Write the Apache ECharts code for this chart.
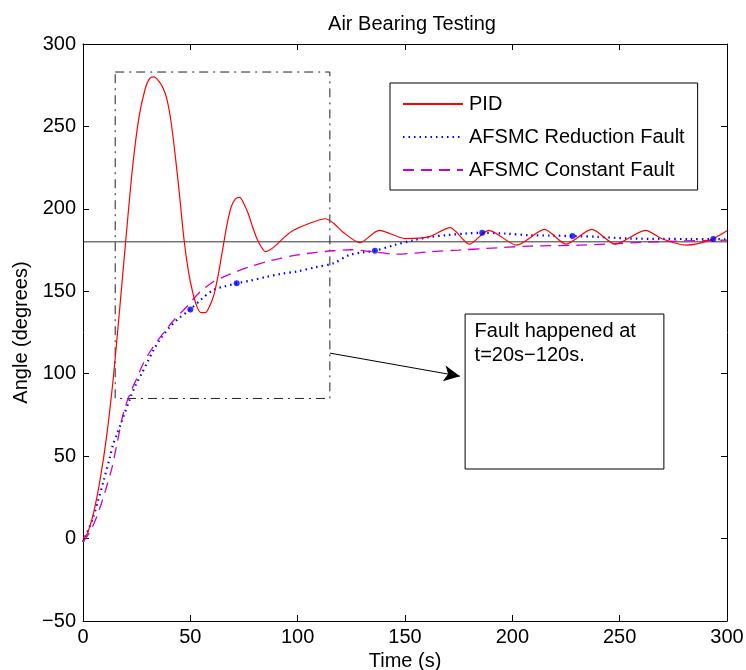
<!DOCTYPE html>
<html>
<head>
<meta charset="utf-8">
<script src="https://cdn.jsdelivr.net/npm/echarts@6/dist/echarts.min.js"></script>
<style>
  html, body { margin: 0; padding: 0; background: #fff; }
  #chart { width: 746px; height: 670px; }
</style>
</head>
<body>
<div id="chart"></div>
<script>
// Time samples (s) and angle responses (degrees)
const pidT = [0, 2, 5, 8, 11, 14, 17, 20, 23, 26, 29, 31, 33, 35, 37, 39, 41, 43, 45, 47, 49, 51, 53, 55, 57, 59, 61, 63, 65, 67, 69, 71, 73, 75, 77, 79, 81, 83, 85, 87, 90, 94, 98, 105, 113, 117, 121, 129, 138, 150, 161, 171, 180, 189, 202, 215, 225, 237, 248, 262, 270, 281, 292, 300];
const pidV = [0, 3, 16, 36, 62, 96, 138, 182, 224, 255, 273, 279, 280, 278, 274, 267, 253, 232, 208, 182, 163, 150, 141, 137, 137, 141, 148, 160, 175, 190, 201, 206, 207, 203, 197, 189, 182, 177, 174, 175, 178, 183, 187, 191, 194, 191, 186, 179.5, 187, 182, 183, 188.6, 178.6, 187, 178, 187.5, 178.6, 187.5, 178.6, 187, 181.7, 178, 181, 186.7];

const redT = [0, 1, 3, 5, 7, 9.5, 12.6, 14, 16, 18, 21.9, 24.5, 27.3, 30, 32.7, 36, 40.5, 45, 50, 55, 60.7, 66, 71.6, 78, 85.5, 92, 99.5, 108, 116.6, 124, 130, 136, 145, 154, 162, 169, 178, 186, 197, 208, 218, 228, 240, 255, 270, 283, 293.6, 300];
const redV = [-2, 1, 7, 14, 23, 34.5, 49.7, 57, 64, 71, 85, 93, 100, 107, 114, 121, 128.5, 134, 139, 145, 150.8, 153, 154.8, 156.5, 158.8, 160.5, 162, 164.5, 167, 172, 173.5, 174.6, 178, 181, 183, 184, 185, 185.5, 185, 184, 183.8, 183.5, 183, 182, 181.8, 181.7, 181.7, 181.5];
// sample indices of the reduction-fault run that carry a dot marker
const redMarkIdx = [18, 22, 31, 37, 41, 46];

const conT = [0, 1.7, 4, 6.3, 8.5, 11, 13.5, 15.6, 18.8, 21.9, 25, 28, 32, 35.9, 42, 48.3, 54, 60.7, 66, 71.6, 78, 85.5, 92, 99.5, 108, 116.6, 125, 135, 146, 155, 161.6, 175, 188, 208, 231.5, 257.8, 278, 300];
const conV = [-2, 1, 6, 13, 21, 31.5, 43, 56, 76, 88, 97, 106, 115, 122, 132, 140.6, 149, 155.8, 159, 162, 165, 168, 170, 172, 173.5, 174.6, 175.2, 174, 172.5, 173.2, 174, 175, 176, 177.4, 178, 179.5, 180.5, 181];

// reference angle
const setpointT = [0, 300];
const setpointV = [180, 180];

// fault window outline
const boxT = [15, 115, 115, 15, 15];
const boxV = [283, 283, 85, 85, 283];

// note box corners and arrow ends
const noteBox = [[178, 136.2], [270.6, 42.2]];
const arrowEnds = [[115, 112.5], [175.6, 98.5]];
const noteText = 'Fault happened at\nt=20s\u2212120s.';

const xTicks = { min: 0, max: 300, interval: 50 };
const yTicks = { min: -50, max: 300, interval: 50 };

const seriesNames = ['PID', 'AFSMC Reduction Fault', 'AFSMC Constant Fault'];

const zip = (a, b) => a.map((t, i) => [t, b[i]]);
const FONT = "'Liberation Sans', Arial, Helvetica, sans-serif";
const FS = 20;

const axisCommon = {
  axisLine: { show: true, onZero: false, lineStyle: { color: '#000', width: 1 } },
  axisTick: { show: true, inside: true, length: 6, lineStyle: { color: '#000' } },
  splitLine: { show: false }
};

const chart = echarts.init(document.getElementById('chart'), null, { renderer: 'canvas' });
chart.setOption({
  backgroundColor: '#fff',
  animation: false,
  textStyle: { fontFamily: FONT },
  title: {
    text: 'Air Bearing Testing',
    left: 407, top: 9, textAlign: 'center',
    textStyle: { fontFamily: FONT, fontSize: FS, fontWeight: 'normal', color: '#000' }
  },
  grid: { left: 83, right: 19, top: 44, bottom: 49, containLabel: false, outerBoundsMode: 'none' },
  legend: {
    data: seriesNames,
    orient: 'vertical',
    left: 390, top: 83,
    padding: [11, 13, 10, 12],
    itemGap: 13,
    itemWidth: 60, itemHeight: 14,
    backgroundColor: '#fff',
    borderColor: '#000', borderWidth: 1, borderRadius: 0,
    itemStyle: { opacity: 0 },
    textStyle: { fontFamily: FONT, fontSize: FS, color: '#000', padding: [0, 0, 0, 1] }
  },
  xAxis: [
    Object.assign({
      type: 'value', position: 'bottom',
      min: xTicks.min, max: xTicks.max, interval: xTicks.interval,
      name: 'Time (s)', nameLocation: 'middle', nameGap: 26,
      nameTextStyle: { fontFamily: FONT, fontSize: FS, color: '#000' },
      axisLabel: { color: '#000', fontSize: FS, fontFamily: FONT, margin: 6 }
    }, axisCommon),
    Object.assign({
      type: 'value', position: 'top',
      min: xTicks.min, max: xTicks.max, interval: xTicks.interval,
      axisLabel: { show: false }
    }, axisCommon)
  ],
  yAxis: [
    Object.assign({
      type: 'value', position: 'left',
      min: yTicks.min, max: yTicks.max, interval: yTicks.interval,
      name: 'Angle (degrees)', nameLocation: 'middle', nameGap: 49, nameRotate: 90,
      nameTextStyle: { fontFamily: FONT, fontSize: FS, color: '#000' },
      axisLabel: {
        color: '#000', fontSize: FS, fontFamily: FONT, margin: 7,
        formatter: v => String(v).replace('-', '\u2212')
      }
    }, axisCommon),
    Object.assign({
      type: 'value', position: 'right',
      min: yTicks.min, max: yTicks.max, interval: yTicks.interval,
      axisLabel: { show: false }
    }, axisCommon)
  ],
  series: [
    {
      name: 'setpoint', type: 'line', data: zip(setpointT, setpointV),
      symbol: 'none', silent: true, z: 1,
      lineStyle: { color: '#333', width: 1 }
    },
    {
      name: 'fault window', type: 'line', data: zip(boxT, boxV),
      symbol: 'none', silent: true, z: 1,
      lineStyle: { color: '#222', width: 1, type: [9, 5, 2, 5] },
      markArea: {
        silent: true,
        itemStyle: { color: '#fff', borderColor: '#000', borderWidth: 1 },
        label: {
          show: true, position: 'insideTopLeft', distance: 0,
          padding: [6, 0, 0, 10],
          color: '#000', fontFamily: FONT, fontSize: FS, lineHeight: 24,
          formatter: noteText
        },
        data: [[{ coord: noteBox[0] }, { coord: noteBox[1] }]]
      },
      markLine: {
        silent: true,
        symbol: ['none', 'arrow'], symbolSize: [12, 16],
        lineStyle: { color: '#000', width: 1, type: 'solid' },
        label: { show: false },
        data: [[{ coord: arrowEnds[0] }, { coord: arrowEnds[1] }]]
      }
    },
    {
      name: seriesNames[0], type: 'line', data: zip(pidT, pidV),
      symbol: 'none', smooth: 0.25, z: 4,
      color: '#ff0000',
      lineStyle: { color: '#ff0000', width: 1.2 }
    },
    {
      name: seriesNames[1], type: 'line', data: zip(redT, redV),
      symbol: 'none', smooth: 0.3, z: 3,
      color: '#0000ff',
      lineStyle: { color: '#0000ff', width: 2.2, type: [1.5, 4] }
    },
    {
      name: 'reduction markers', type: 'scatter',
      data: redMarkIdx.map(i => [redT[i], redV[i]]),
      symbol: 'circle', symbolSize: 6, z: 5,
      itemStyle: { color: '#0000ff' }
    },
    {
      name: seriesNames[2], type: 'line', data: zip(conT, conV),
      symbol: 'none', smooth: 0.3, z: 3,
      color: '#cc00cc',
      lineStyle: { color: '#cc00cc', width: 1.3, type: [11, 7] }
    }
  ]
});
</script>
</body>
</html>
